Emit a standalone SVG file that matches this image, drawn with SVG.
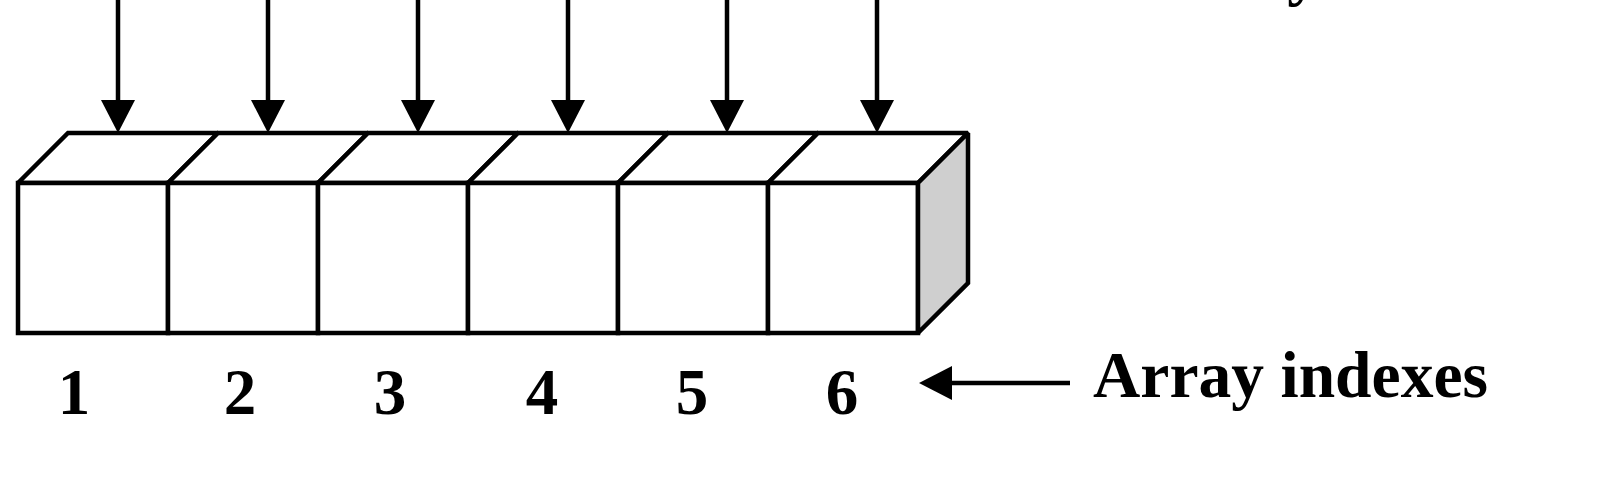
<svg xmlns="http://www.w3.org/2000/svg" width="1600" height="480" viewBox="0 0 1600 480">
  <style>
    .edge { fill: #ffffff; stroke: #000000; stroke-width: 4.5; stroke-linejoin: miter; stroke-miterlimit: 2; }
    .side { fill: #cfcfcf; stroke: #000000; stroke-width: 4.5; stroke-linejoin: miter; stroke-miterlimit: 2; }
    .conn { stroke: #000000; stroke-width: 4.5; fill: none; }
    .num { font-family: "Liberation Serif", "Times New Roman", serif; font-weight: bold; font-size: 65px; fill: #000000; text-anchor: middle; }
    .label { font-family: "Liberation Serif", "Times New Roman", serif; font-weight: bold; font-size: 65px; fill: #000000; }
  </style>
  <defs>
    <marker id="head" markerUnits="userSpaceOnUse" markerWidth="33" markerHeight="34" refX="0" refY="17" orient="auto" viewBox="0 0 33 34">
      <path d="M0,0 L33,17 L0,34 z" fill="#000000"/>
    </marker>
  </defs>
  <rect x="0" y="0" width="1600" height="480" fill="#ffffff"/>

  <text class="label" x="1150" y="-7">Array elements</text>

  <g id="cell1">
    <polygon class="edge" points="18,183 68,133 218,133 168,183"/>
    <rect class="edge" x="18" y="183" width="150" height="150"/>
  </g>
  <g id="cell2">
    <polygon class="edge" points="168,183 218,133 368,133 318,183"/>
    <rect class="edge" x="168" y="183" width="150" height="150"/>
  </g>
  <g id="cell3">
    <polygon class="edge" points="318,183 368,133 518,133 468,183"/>
    <rect class="edge" x="318" y="183" width="150" height="150"/>
  </g>
  <g id="cell4">
    <polygon class="edge" points="468,183 518,133 668,133 618,183"/>
    <rect class="edge" x="468" y="183" width="150" height="150"/>
  </g>
  <g id="cell5">
    <polygon class="edge" points="618,183 668,133 818,133 768,183"/>
    <rect class="edge" x="618" y="183" width="150" height="150"/>
  </g>
  <g id="cell6">
    <polygon class="edge" points="768,183 818,133 968,133 918,183"/>
    <rect class="edge" x="768" y="183" width="150" height="150"/>
    <polygon class="side" points="918,183 968,133 968,283 918,333"/>
  </g>

  <g id="indexes">
    <text class="num" x="74" y="414">1</text>
    <text class="num" x="240" y="414">2</text>
    <text class="num" x="390" y="414">3</text>
    <text class="num" x="542" y="414">4</text>
    <text class="num" x="692" y="414">5</text>
    <text class="num" x="842" y="414">6</text>
  </g>

  <g id="index-label">
    <text class="label" x="1093" y="397" textLength="395" lengthAdjust="spacingAndGlyphs">Array indexes</text>
  </g>

  <g id="connectors">
    <line class="conn" x1="118" y1="0" x2="118" y2="100" marker-end="url(#head)"/>
    <line class="conn" x1="268" y1="0" x2="268" y2="100" marker-end="url(#head)"/>
    <line class="conn" x1="418" y1="0" x2="418" y2="100" marker-end="url(#head)"/>
    <line class="conn" x1="568" y1="0" x2="568" y2="100" marker-end="url(#head)"/>
    <line class="conn" x1="727" y1="0" x2="727" y2="100" marker-end="url(#head)"/>
    <line class="conn" x1="877" y1="0" x2="877" y2="100" marker-end="url(#head)"/>
    <line class="conn" x1="1070" y1="383" x2="952" y2="383" marker-end="url(#head)"/>
  </g>
</svg>
